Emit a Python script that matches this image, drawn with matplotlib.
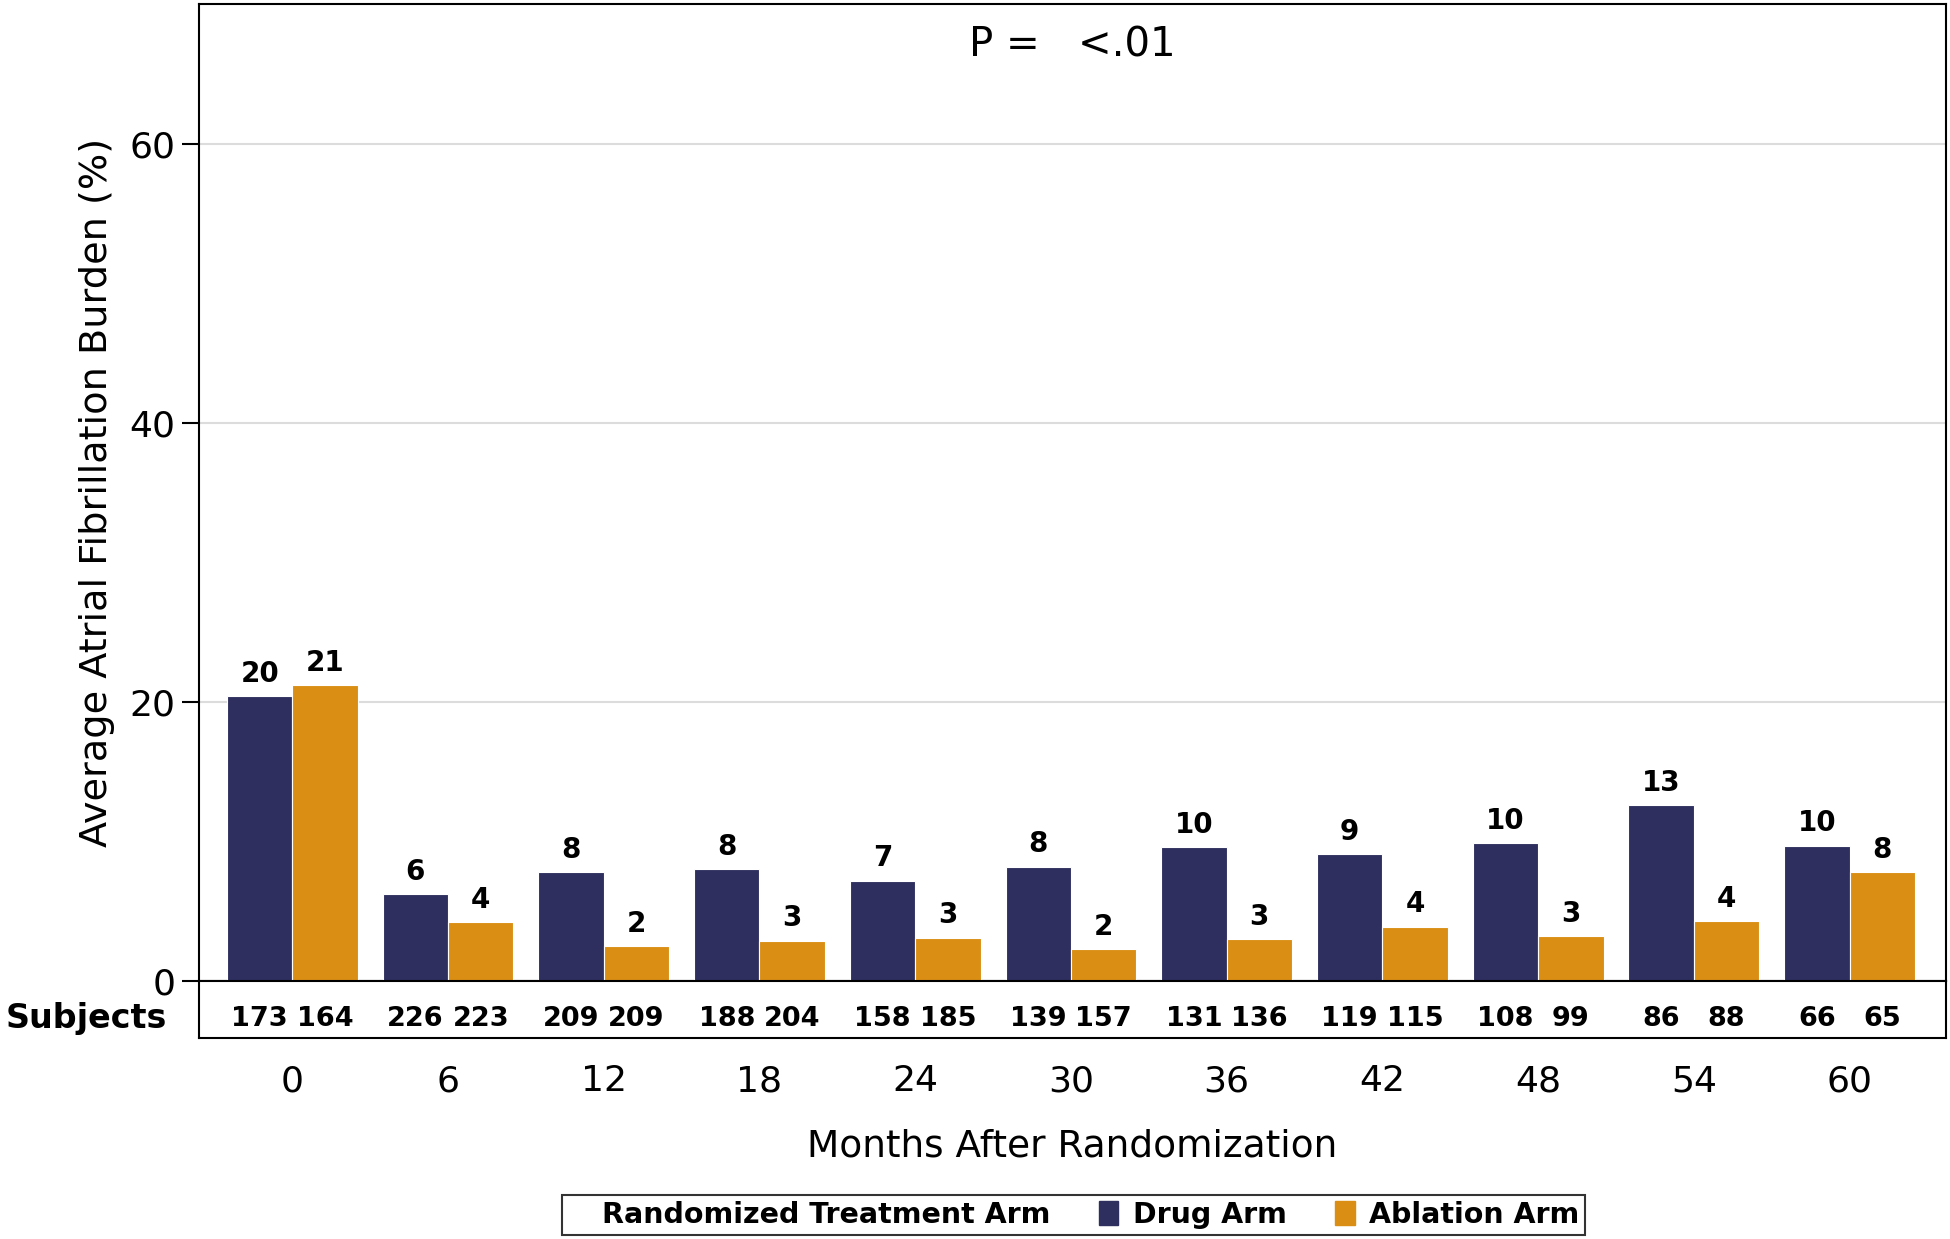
import matplotlib
matplotlib.use('Agg')
import matplotlib.pyplot as plt
import numpy as np
from matplotlib.patches import Patch

# data
months = [0, 6, 12, 18, 24, 30, 36, 42, 48, 54, 60]
drug_burden = [20.4, 6.2, 7.8, 8.0, 7.2, 8.2, 9.6, 9.1, 9.9, 12.6, 9.7]
ablation_burden = [21.2, 4.2, 2.5, 2.9, 3.1, 2.3, 3.0, 3.9, 3.2, 4.3, 7.8]
drug_n = [173, 226, 209, 188, 158, 139, 131, 119, 108, 86, 66]
ablation_n = [164, 223, 209, 204, 185, 157, 136, 115, 99, 88, 65]

drug_col = '#2f2f5f'
abl_col = '#da8e14'

plt.rcParams['font.family'] = 'DejaVu Sans'

fig = plt.figure(figsize=(19.5, 12.39), dpi=100)
ax = fig.add_axes([0.102, 0.2082, 0.896, 0.7886])
axs = fig.add_axes([0.102, 0.1622, 0.896, 0.046], sharex=ax)

x = np.arange(len(months))
w = 0.42
b1 = ax.bar(x - w/2, drug_burden, w, color=drug_col, edgecolor='white', linewidth=0.8, zorder=3)
b2 = ax.bar(x + w/2, ablation_burden, w, color=abl_col, edgecolor='white', linewidth=0.8, zorder=3)

for bars, vals in [(b1, drug_burden), (b2, ablation_burden)]:
    for r, v in zip(bars, vals):
        ax.annotate('%d' % round(v), (r.get_x() + r.get_width()/2, v), xytext=(0, 6),
                    textcoords='offset points', ha='center', va='bottom',
                    fontsize=20, fontweight='bold')

ax.set_xlim(-0.6, len(months) - 1 + 0.62)
ax.set_ylim(0, 70)
ax.set_yticks([0, 20, 40, 60])
ax.tick_params(axis='y', labelsize=26, length=12, width=1.5, direction='out', pad=5)
ax.tick_params(axis='x', bottom=False, labelbottom=False)
ax.grid(axis='y', color='#dcdcdc', linewidth=1.5, zorder=0)
for s in ax.spines.values():
    s.set_linewidth(1.5)
ax.set_ylabel('Average Atrial Fibrillation Burden (%)', fontsize=27.5, labelpad=10)
ax.text(0.5, 0.958, 'P =   <.01', transform=ax.transAxes, ha='center', va='center', fontsize=29)

# subjects strip
for xi, a, b in zip(x, drug_n, ablation_n):
    axs.text(xi - w/2, 0.34, str(a), ha='center', va='center', fontsize=19.5, fontweight='bold')
    axs.text(xi + w/2, 0.34, str(b), ha='center', va='center', fontsize=19.5, fontweight='bold')
axs.set_ylim(0, 1)
axs.set_yticks([])
for s in axs.spines.values():
    s.set_linewidth(1.5)
axs.text(-0.018, 0.34, 'Subjects', transform=axs.transAxes, ha='right', va='center',
         fontsize=24, fontweight='bold')
axs.set_xticks(x)
axs.set_xticklabels([str(m) for m in months])
axs.tick_params(axis='x', length=0, labelsize=26, pad=19)
axs.set_xlabel('Months After Randomization', fontsize=27, labelpad=22)

handles = [Patch(visible=False), Patch(facecolor=drug_col, edgecolor=drug_col),
           Patch(facecolor=abl_col, edgecolor=abl_col)]
labels = ['Randomized Treatment Arm', 'Drug Arm', 'Ablation Arm']
leg = fig.legend(handles, labels, loc='center', bbox_to_anchor=(0.5505, 0.0194), ncol=3,
                 frameon=True, fancybox=False, edgecolor='black',
                 prop={'weight': 'bold', 'size': 20.5}, handlelength=0.7, handleheight=0.9,
                 handletextpad=0.5, columnspacing=1.7, borderpad=0.2)
leg.get_frame().set_linewidth(1.5)

fig.savefig('out.png', dpi=100)
